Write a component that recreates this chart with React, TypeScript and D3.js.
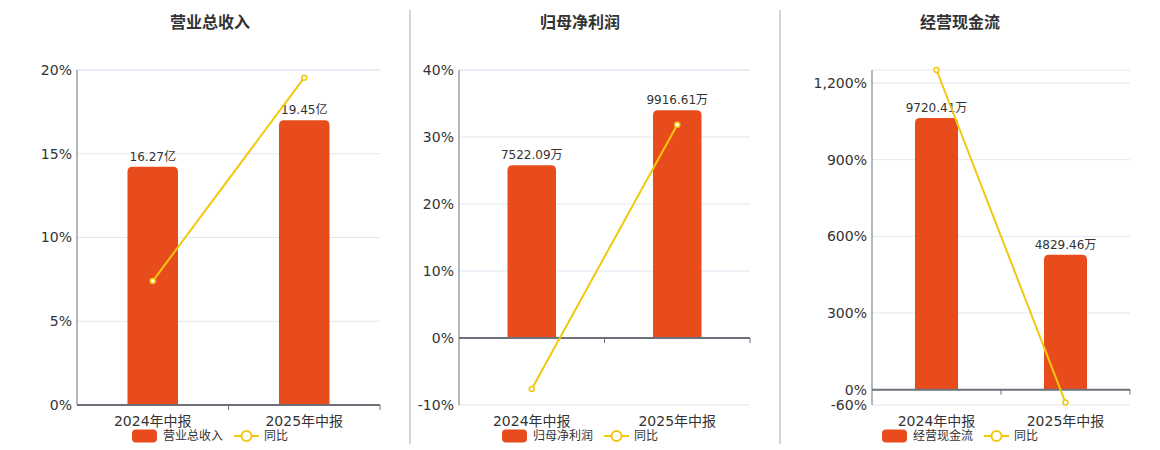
import React from 'react';
import * as d3 from 'd3';

// chart data
const categories = ['2024年中报', '2025年中报'];
const titles = ['营业总收入', '归母净利润', '经营现金流'];
const barValues = [
  [16.27, 19.45],
  [7522.09, 9916.61],
  [9720.41, 4829.46],
];
const barLabels = [
  ['16.27亿', '19.45亿'],
  ['7522.09万', '9916.61万'],
  ['9720.41万', '4829.46万'],
];
const yoyValues = [
  [7.4, 19.54],
  [-7.6, 31.83],
  [1251, -50.32],
];
const yDomains = [
  [0, 20],
  [-10, 40],
  [-60, 1251],
];
const yTicks = [
  [0, 5, 10, 15, 20],
  [-10, 0, 10, 20, 30, 40],
  [-60, 0, 300, 600, 900, 1200],
];

// layout
const panels = [
  { left: 77, right: 380, cx: 210 },
  { left: 459, right: 750, cx: 580 },
  { left: 872, right: 1130, cx: 960 },
];
const separators = [410, 780];
const TOP = 70;
const BOTTOM = 405;

const BAR_COLOR = '#e84c1c';
const LINE_COLOR = '#f2c80f';
const FONT = '"DejaVu Sans", "Noto Sans CJK SC", sans-serif';

const locale = d3.formatLocale({ decimal: '.', thousands: ',', grouping: [3], currency: ['', ''], minus: '-' });
const fmt = locale.format(',');

function topRoundedBar(x: number, y: number, w: number, h: number, r: number) {
  const rr = Math.min(r, h, w / 2);
  return `M${x},${y + h}V${y + rr}Q${x},${y} ${x + rr},${y}H${x + w - rr}Q${x + w},${y} ${x + w},${y + rr}V${y + h}Z`;
}

const Panel: React.FC<{ i: number }> = ({ i }) => {
  const p = panels[i];
  const x = d3.scaleBand<string>().domain(categories).range([p.left, p.right]);
  const y = d3.scaleLinear().domain(yDomains[i]).range([BOTTOM, TOP]);
  const zeroY = y(0);
  const maxBar = d3.max(barValues[i]) as number;
  const yBar = d3.scaleLinear().domain([0, maxBar / 0.85]).range([zeroY, TOP]);
  const bw = x.bandwidth() / 3;
  const line = d3
    .line<number>()
    .x((_, j) => (x(categories[j]) as number) + x.bandwidth() / 2)
    .y((d) => y(d));
  const gridVals = [yDomains[i][1], ...yTicks[i]];

  return (
    <g>
      <text x={p.cx} y={28} textAnchor="middle" fontSize={16} fontWeight="bold" fill="#333">
        {titles[i]}
      </text>
      {gridVals.map((t, k) => (
        <line key={k} x1={p.left} x2={p.right} y1={y(t)} y2={y(t)} stroke="#e0e6f1" strokeWidth={1} />
      ))}
      {yTicks[i].map((t) => (
        <text key={t} x={p.left - 5} y={y(t)} dy="0.35em" textAnchor="end" fontSize={14} fill="#333">
          {fmt(t)}%
        </text>
      ))}
      <line x1={p.left} x2={p.left} y1={TOP} y2={BOTTOM} stroke="#6e7079" strokeWidth={1} />
      {barValues[i].map((v, j) => {
        const cx = (x(categories[j]) as number) + x.bandwidth() / 2;
        const top = yBar(v);
        return (
          <g key={j}>
            <path d={topRoundedBar(cx - bw / 2, top, bw, zeroY - top, 5)} fill={BAR_COLOR} />
            <text x={cx} y={top - 6} textAnchor="middle" fontSize={12} fill="#333">
              {barLabels[i][j]}
            </text>
          </g>
        );
      })}
      <line x1={p.left} x2={p.right} y1={zeroY} y2={zeroY} stroke="#6e7079" strokeWidth={2} />
      {categories.map((c) => (
        <line
          key={c}
          x1={(x(c) as number) + x.bandwidth()}
          x2={(x(c) as number) + x.bandwidth()}
          y1={zeroY}
          y2={zeroY + 5}
          stroke="#6e7079"
        />
      ))}
      {categories.map((c) => (
        <text key={c} x={(x(c) as number) + x.bandwidth() / 2} y={426} textAnchor="middle" fontSize={14} fill="#333">
          {c}
        </text>
      ))}
      <path d={line(yoyValues[i]) as string} fill="none" stroke={LINE_COLOR} strokeWidth={2} />
      {yoyValues[i].map((v, j) => (
        <circle
          key={j}
          cx={(x(categories[j]) as number) + x.bandwidth() / 2}
          cy={y(v)}
          r={2.5}
          fill="#fff"
          stroke={LINE_COLOR}
          strokeWidth={1.5}
        />
      ))}
      <g transform={`translate(${p.cx},436)`}>
        <rect x={-78} y={-6.5} width={25} height={13} rx={4} fill={BAR_COLOR} />
        <text x={-47} y={0} dy="0.35em" fontSize={12} fill="#333">
          {titles[i]}
        </text>
        <line x1={24} x2={49} y1={0} y2={0} stroke={LINE_COLOR} strokeWidth={2} />
        <circle cx={36.5} cy={0} r={5} fill="#fff" stroke={LINE_COLOR} strokeWidth={2} />
        <text x={54} y={0} dy="0.35em" fontSize={12} fill="#333">
          同比
        </text>
      </g>
    </g>
  );
};

export default function App() {
  return (
    <svg width={1160} height={450} style={{ position: 'absolute', left: 0, top: 0, fontFamily: FONT }}>
      <rect width={1160} height={450} fill="#fff" />
      {separators.map((sx) => (
        <line key={sx} x1={sx} x2={sx} y1={10} y2={444} stroke="#aaa" strokeWidth={1} />
      ))}
      {panels.map((_, i) => (
        <Panel key={i} i={i} />
      ))}
    </svg>
  );
}
